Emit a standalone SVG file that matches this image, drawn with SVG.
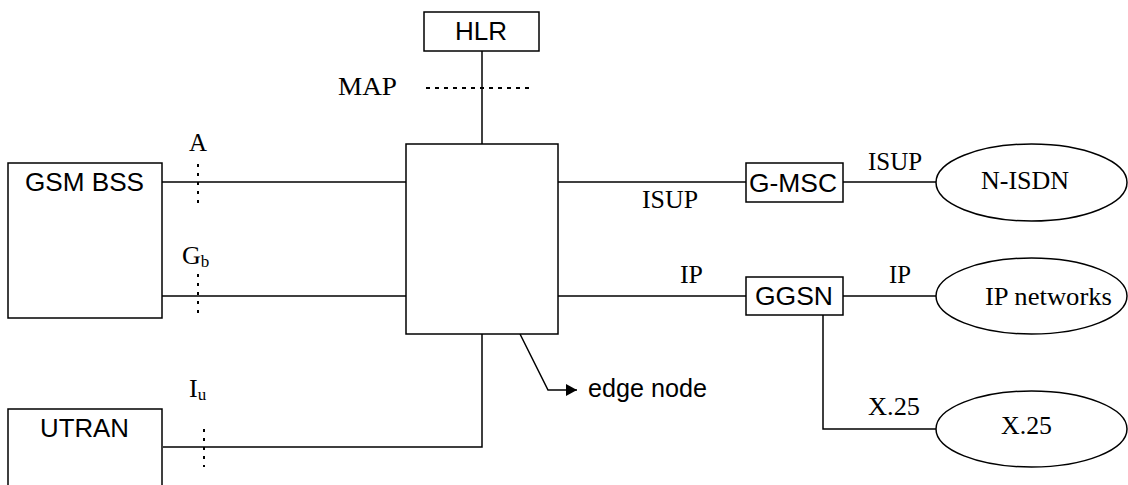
<svg xmlns="http://www.w3.org/2000/svg" width="1128" height="485" viewBox="0 0 1128 485">
<style>
.box{fill:#fff;stroke:#000;stroke-width:1.5}
.ln{fill:none;stroke:#000;stroke-width:1.5}
.dot{fill:none;stroke:#000;stroke-width:2;stroke-dasharray:3 6}
.sans{font-family:"Liberation Sans",Arial,sans-serif;font-size:25px;fill:#000}
.serif{font-family:"Liberation Serif","Times New Roman",serif;font-size:26px;fill:#000}
.sub{font-size:17px}
</style>
<defs>
<marker id="ah" viewBox="0 0 11 12" refX="11" refY="6" markerWidth="11" markerHeight="12" markerUnits="userSpaceOnUse" orient="auto">
<path d="M0,0 L11,6 L0,12 Z" fill="#000"/>
</marker>
</defs>
<rect width="1128" height="485" fill="#fff"/>
<g id="connectors">
<line class="ln" x1="482" y1="51" x2="482" y2="144"/>
<line class="dot" x1="426" y1="88" x2="534" y2="88" style="stroke-dasharray:4 5"/>
<line class="ln" x1="162" y1="182" x2="406" y2="182"/>
<line class="dot" x1="198" y1="164" x2="198" y2="203"/>
<line class="ln" x1="162" y1="296" x2="406" y2="296"/>
<line class="dot" x1="198" y1="274" x2="198" y2="318"/>
<polyline class="ln" points="163,447 482,447 482,334"/>
<line class="dot" x1="204" y1="429" x2="204" y2="467"/>
<line class="ln" x1="558" y1="182" x2="746" y2="182"/>
<line class="ln" x1="558" y1="296" x2="746" y2="296"/>
<line class="ln" x1="843" y1="182" x2="936" y2="182"/>
<line class="ln" x1="843" y1="296" x2="936" y2="296"/>
<polyline class="ln" points="823,315 823,429 936,429"/>
<polyline class="ln" points="520,334 548,390 577,390" marker-end="url(#ah)"/>
</g>
<g id="hlr">
<rect class="box" x="424" y="12" width="115" height="39"/>
<text class="sans" x="481" y="40" text-anchor="middle" textLength="52" lengthAdjust="spacingAndGlyphs">HLR</text>
</g>
<g id="gsm-bss">
<rect class="box" x="8" y="163" width="154" height="155"/>
<text class="sans" x="25" y="191" textLength="119" lengthAdjust="spacingAndGlyphs">GSM BSS</text>
</g>
<g id="utran">
<rect class="box" x="8" y="409" width="154" height="90"/>
<text class="sans" x="40" y="437" textLength="89" lengthAdjust="spacingAndGlyphs">UTRAN</text>
</g>
<g id="edge-node">
<rect class="box" x="406" y="144" width="152" height="190"/>
<text class="sans" x="588" y="397" textLength="119" lengthAdjust="spacingAndGlyphs">edge node</text>
</g>
<g id="g-msc">
<rect class="box" x="746" y="163" width="97" height="39"/>
<text class="sans" x="749" y="192" textLength="88" lengthAdjust="spacingAndGlyphs">G-MSC</text>
</g>
<g id="ggsn">
<rect class="box" x="746" y="277" width="97" height="38"/>
<text class="sans" x="755" y="305" textLength="78" lengthAdjust="spacingAndGlyphs">GGSN</text>
</g>
<g id="n-isdn">
<ellipse class="box" cx="1031.5" cy="182.5" rx="95.5" ry="38.5"/>
<text class="serif" x="981" y="189" textLength="88" lengthAdjust="spacingAndGlyphs">N-ISDN</text>
</g>
<g id="ip-networks">
<ellipse class="box" cx="1031.5" cy="296" rx="95.5" ry="38"/>
<text class="serif" x="985" y="305" textLength="127" lengthAdjust="spacingAndGlyphs">IP networks</text>
</g>
<g id="x25">
<ellipse class="box" cx="1031.5" cy="429" rx="95.5" ry="38"/>
<text class="serif" x="1001" y="434" textLength="51" lengthAdjust="spacingAndGlyphs">X.25</text>
</g>
<g id="labels">
<text class="serif" x="338" y="95" textLength="59" lengthAdjust="spacingAndGlyphs">MAP</text>
<text class="serif" x="189" y="151" textLength="18" lengthAdjust="spacingAndGlyphs">A</text>
<text class="serif" x="182" y="264">G<tspan class="sub" dy="3">b</tspan></text>
<text class="serif" x="189" y="397">I<tspan class="sub" dy="3">u</tspan></text>
<text class="serif" x="642" y="208" textLength="56" lengthAdjust="spacingAndGlyphs">ISUP</text>
<text class="serif" x="680" y="283" textLength="23" lengthAdjust="spacingAndGlyphs">IP</text>
<text class="serif" x="868" y="170" textLength="54" lengthAdjust="spacingAndGlyphs">ISUP</text>
<text class="serif" x="889" y="283" textLength="22" lengthAdjust="spacingAndGlyphs">IP</text>
<text class="serif" x="868" y="415" textLength="52" lengthAdjust="spacingAndGlyphs">X.25</text>
</g>
</svg>
